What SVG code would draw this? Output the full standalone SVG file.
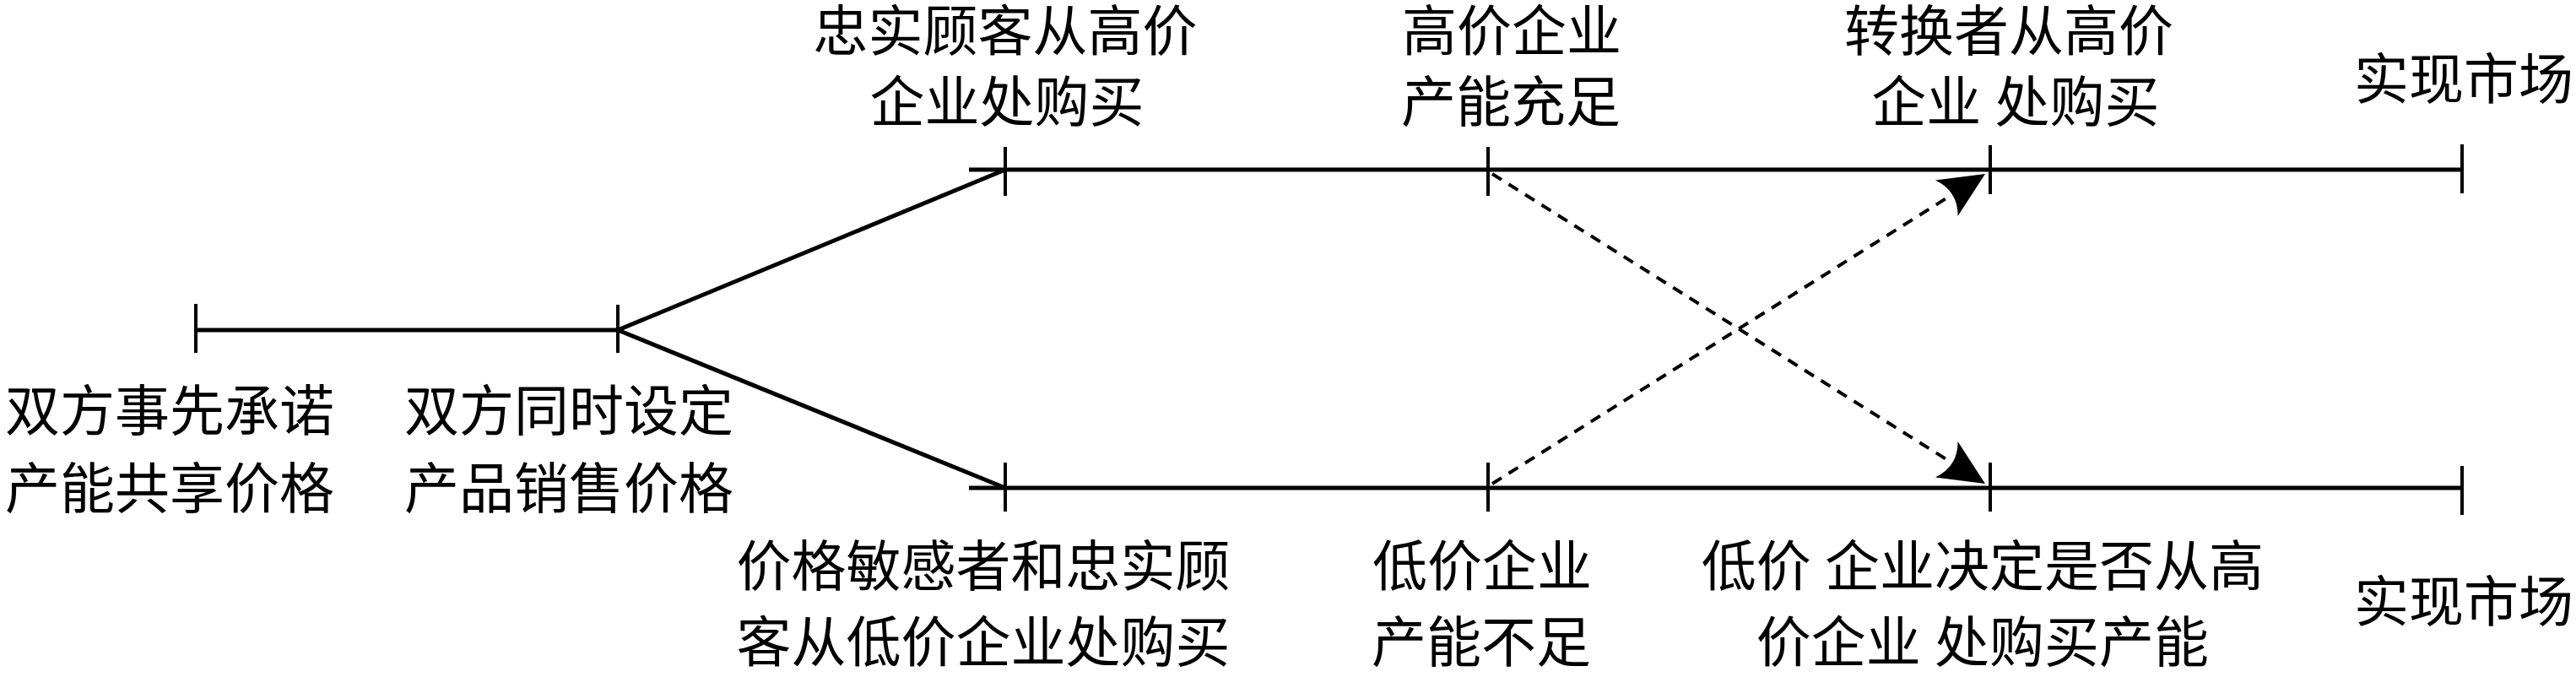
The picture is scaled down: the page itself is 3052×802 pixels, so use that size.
<svg xmlns="http://www.w3.org/2000/svg" width="3052" height="802" viewBox="0 0 3052 802">
<style>
.t{font-family:"Liberation Serif","Noto Sans CJK SC",serif;font-size:65px;fill:#000;text-anchor:middle}
.ln{stroke:#000;stroke-width:5;fill:none;stroke-linecap:butt}
.tk{stroke:#000;stroke-width:4;fill:none}
.ds{stroke:#000;stroke-width:4;fill:none;stroke-dasharray:13 10}
</style>
<defs>
<marker id="ah" markerUnits="userSpaceOnUse" markerWidth="70" markerHeight="60" refX="60" refY="30" orient="auto" viewBox="0 0 70 60">
<path d="M60,30 L6,5 Q22,30 6,55 Z" fill="#000"/>
</marker>
</defs>
<rect width="3052" height="802" fill="#fff"/>
<g id="connectors">
<line class="ln" x1="232" y1="391" x2="732" y2="391"/>
<line class="ln" x1="732" y1="391" x2="1191" y2="201"/>
<line class="ln" x1="732" y1="391" x2="1191" y2="578"/>
<line class="ln" x1="1148" y1="201" x2="2917" y2="201"/>
<line class="ln" x1="1148" y1="578" x2="2917" y2="578"/>
<line class="ds" x1="1768" y1="206" x2="2352" y2="573" marker-end="url(#ah)"/>
<line class="ds" x1="1768" y1="573" x2="2352" y2="206" marker-end="url(#ah)"/>
</g>
<g id="n-commit">
<line class="tk" x1="232" y1="360" x2="232" y2="418"/>
<text class="t" x="201" y="510">双方事先承诺</text>
<text class="t" x="201" y="602">产能共享价格</text>
</g>
<g id="n-price">
<line class="tk" x1="732" y1="361" x2="732" y2="418"/>
<text class="t" x="674" y="510">双方同时设定</text>
<text class="t" x="674" y="602">产品销售价格</text>
</g>
<g id="n-loyal-high">
<line class="tk" x1="1191" y1="174" x2="1191" y2="232"/>
<text class="t" x="1191" y="60">忠实顾客从高价</text>
<text class="t" x="1193" y="144">企业处购买</text>
</g>
<g id="n-high-cap">
<line class="tk" x1="1763" y1="174" x2="1763" y2="232"/>
<text class="t" x="1791" y="60">高价企业</text>
<text class="t" x="1790" y="144">产能充足</text>
</g>
<g id="n-switch">
<line class="tk" x1="2358" y1="172" x2="2358" y2="230"/>
<text class="t" x="2380" y="60">转换者从高价</text>
<text class="t" x="2388" y="144">企业 处购买</text>
</g>
<g id="n-market-top">
<line class="tk" x1="2917" y1="171" x2="2917" y2="229"/>
<text class="t" x="2919" y="117">实现市场</text>
</g>
<g id="n-sensitive-low">
<line class="tk" x1="1191" y1="548" x2="1191" y2="606"/>
<text class="t" x="1165" y="694">价格敏感者和忠实顾</text>
<text class="t" x="1165" y="784">客从低价企业处购买</text>
</g>
<g id="n-low-cap">
<line class="tk" x1="1763" y1="548" x2="1763" y2="606"/>
<text class="t" x="1756" y="694">低价企业</text>
<text class="t" x="1755" y="784">产能不足</text>
</g>
<g id="n-low-decide">
<line class="tk" x1="2358" y1="548" x2="2358" y2="606"/>
<text class="t" x="2349" y="694">低价 企业决定是否从高</text>
<text class="t" x="2349" y="784">价企业 处购买产能</text>
</g>
<g id="n-market-bottom">
<line class="tk" x1="2917" y1="552" x2="2917" y2="610"/>
<text class="t" x="2919" y="736">实现市场</text>
</g>
</svg>
